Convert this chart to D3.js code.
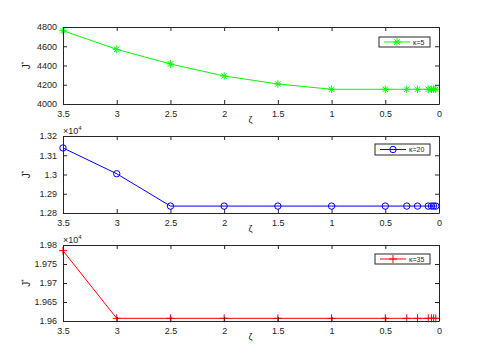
<!DOCTYPE html>
<html><head><meta charset="utf-8">
<script src="https://cdn.jsdelivr.net/npm/d3@7"></script>
<style>body{margin:0;background:#fff}svg{display:block}text{font-family:"Liberation Sans",Arial,sans-serif;fill:#262626}</style>
</head><body>
<script>
const zeta = [3.5, 3, 2.5, 2, 1.5, 1, 0.5, 0.3, 0.2, 0.1, 0.07, 0.05, 0.03];
const j5  = [4762, 4568, 4416, 4291, 4208, 4153, 4153, 4153, 4153, 4153, 4153, 4153, 4153];
const j20 = [13138, 13004, 12836, 12836, 12836, 12836, 12836, 12836, 12836, 12836, 12836, 12836, 12836];
const j35 = [19785, 19607, 19607, 19607, 19607, 19607, 19607, 19607, 19607, 19607, 19607, 19607, 19607];
const xTicks = [3.5, 3, 2.5, 2, 1.5, 1, 0.5, 0];
const yTicks5 = [4000, 4200, 4400, 4600, 4800];
const yTicks20 = [12800, 12900, 13000, 13100, 13200];
const yTicks35 = [19600, 19650, 19700, 19750, 19800];
const labels = ["\u03ba=5", "\u03ba=20", "\u03ba=35"];

const W = 485, H = 363;
const svg = d3.select("body").append("svg").attr("width", W).attr("height", H);

const panels = [
  {vals: j5, ticks: yTicks5, dom: [4000, 4800], top: 27, bot: 104, color: "#00ff00", marker: "star", label: labels[0], fmt: d => d, exp: false, leg: [379, 37, 51, 10]},
  {vals: j20, ticks: yTicks20, dom: [12800, 13200], top: 136, bot: 213, color: "#0000ff", marker: "circle", label: labels[1], fmt: d => +(d/10000).toFixed(3), exp: true, leg: [375, 144, 55, 11]},
  {vals: j35, ticks: yTicks35, dom: [19600, 19800], top: 245, bot: 321, color: "#ff0000", marker: "plus", label: labels[2], fmt: d => +(d/10000).toFixed(4), exp: true, leg: [375, 254, 55, 10]}
];
const L = 63, R = 439;
const x = d3.scaleLinear().domain([3.5, 0]).range([L, R]);

function drawMarker(g, type, cx, cy, color) {
  if (type === "circle") {
    g.append("circle").attr("cx", cx).attr("cy", cy).attr("r", 3.2).attr("fill", "none").attr("stroke", color).attr("stroke-width", 1);
  } else if (type === "plus") {
    g.append("path").attr("d", `M${cx-4},${cy}H${cx+4}M${cx},${cy-4}V${cy+4}`).attr("stroke", color).attr("stroke-width", 1);
  } else {
    const r = 3.8, d = 2.7;
    g.append("path").attr("d", `M${cx-r},${cy}H${cx+r}M${cx},${cy-r}V${cy+r}M${cx-d},${cy-d}L${cx+d},${cy+d}M${cx-d},${cy+d}L${cx+d},${cy-d}`).attr("stroke", color).attr("stroke-width", 1);
  }
}

panels.forEach(p => {
  const y = d3.scaleLinear().domain(p.dom).range([p.bot, p.top]);
  const g = svg.append("g");
  // series line
  const line = d3.line().x((d, i) => x(zeta[i])).y(d => y(d));
  g.append("path").datum(p.vals).attr("d", line).attr("fill", "none").attr("stroke", p.color).attr("stroke-width", 1);
  p.vals.forEach((v, i) => drawMarker(g, p.marker, x(zeta[i]), y(v), p.color));

  // axes
  const ax = d3.axisBottom(x).tickValues(xTicks).tickSizeInner(-4).tickSizeOuter(0).tickPadding(7).tickFormat(d => d);
  const axT = d3.axisTop(x).tickValues(xTicks).tickSizeInner(-4).tickSizeOuter(0).tickFormat("");
  const ay = d3.axisLeft(y).tickValues(p.ticks).tickSizeInner(-4).tickSizeOuter(0).tickPadding(6).tickFormat(p.fmt);
  const ayR = d3.axisRight(y).tickValues(p.ticks).tickSizeInner(-4).tickSizeOuter(0).tickFormat("");
  [[ax, `translate(0,${p.bot})`], [axT, `translate(0,${p.top})`], [ay, `translate(${L},0)`], [ayR, `translate(${R},0)`]].forEach(([a, t]) => {
    const ga = g.append("g").attr("transform", t).call(a);
    ga.select(".domain").attr("stroke", "#262626").attr("stroke-width", 1);
    ga.selectAll(".tick line").attr("stroke", "#262626");
    ga.selectAll("text").attr("font-size", 9).attr("font-family", "Liberation Sans, Arial, sans-serif").attr("fill", "#262626");
  });
  // x label
  g.append("text").attr("x", (L + R) / 2 - 0.5).attr("y", p.bot + 19).attr("text-anchor", "middle").attr("font-size", 9).text("\u03b6");
  // y label
  const yl = g.append("text").attr("transform", `translate(30,${(p.top + p.bot) / 2}) rotate(-90)`).attr("text-anchor", "middle").attr("font-size", 10);
  yl.append("tspan").text("J");
  yl.append("tspan").attr("dy", -4).attr("font-size", 7).text("*");
  // exponent
  if (p.exp) {
    const e = g.append("text").attr("x", L).attr("y", p.top - 2).attr("font-size", 9);
    e.append("tspan").text("\u00d710");
    e.append("tspan").attr("dy", -4).attr("font-size", 6).text("4");
  }
  // legend
  const [lx, ly, lw, lh] = p.leg;
  g.append("rect").attr("x", lx).attr("y", ly).attr("width", lw).attr("height", lh).attr("fill", "#fff").attr("stroke", "#262626").attr("stroke-width", 1);
  const my = ly + lh / 2;
  g.append("line").attr("x1", lx + 5).attr("x2", lx + 31).attr("y1", my).attr("y2", my).attr("stroke", p.color).attr("stroke-width", 1);
  drawMarker(g, p.marker, lx + 18, my, p.color);
  g.append("text").attr("x", lx + 34).attr("y", my + 2.5).attr("font-size", 7).text(p.label);
});
</script>
</body></html>
